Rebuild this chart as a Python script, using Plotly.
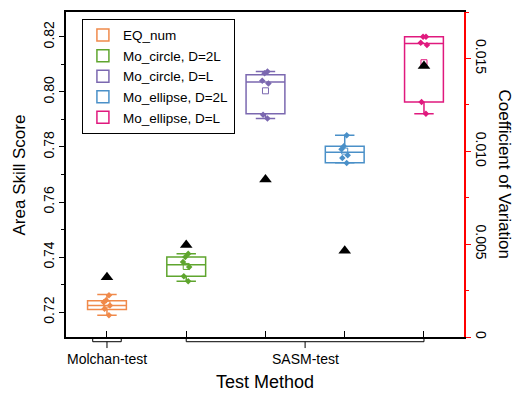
import plotly.graph_objects as go

categories = ["EQ_num", "Mo_circle, D=2L", "Mo_circle, D=L", "Mo_ellipse, D=2L", "Mo_ellipse, D=L"]
positions = [1, 2, 3, 4, 5]
colors = ["#F08A4B", "#5FA52E", "#7B68B0", "#4A90C8", "#E0197E"]

points = [
    [0.7261, 0.7243, 0.7236, 0.7224, 0.7212, 0.7189],
    [0.7412, 0.7400, 0.7382, 0.7364, 0.7330, 0.7312],
    [0.8074, 0.8068, 0.8041, 0.8031, 0.7917, 0.7903],
    [0.7843, 0.7803, 0.7792, 0.7770, 0.7760, 0.7742],
    [0.8200, 0.8200, 0.8179, 0.8170, 0.7963, 0.7921],
]
q1 = [0.7210, 0.7330, 0.7921, 0.7743, 0.7963]
median = [0.7224, 0.7372, 0.8036, 0.7781, 0.8176]
q3 = [0.7241, 0.7400, 0.8062, 0.7803, 0.8200]
lowerfence = [0.7189, 0.7312, 0.7903, 0.7742, 0.7921]
upperfence = [0.7264, 0.7412, 0.8074, 0.7843, 0.8200]
means = [0.7229, 0.7366, 0.8004, 0.7785, 0.8106]
cv = [0.00322, 0.00495, 0.00849, 0.00465, 0.0146]

groups = ["Molchan-test", "SASM-test"]
group_members = [[1], [2, 3, 4, 5]]

y2_tickvals = [0, 0.005, 0.010, 0.015]
y2_ticktext = ["0", "0.005", "0.010", "0.015"]

FONT = "Liberation Sans, Arial, sans-serif"

fig = go.Figure()

for i, cat in enumerate(categories):
    fig.add_trace(go.Box(
        x=[positions[i]], q1=[q1[i]], median=[median[i]], q3=[q3[i]],
        lowerfence=[lowerfence[i]], upperfence=[upperfence[i]],
        name=cat, width=0.49, whiskerwidth=0.5,
        line=dict(color=colors[i], width=1.5),
        fillcolor="rgba(0,0,0,0)", showlegend=True,
    ))

for i, cat in enumerate(categories):
    fig.add_trace(go.Box(
        x=[positions[i]] * len(points[i]), y=points[i],
        boxpoints="all", jitter=0.6, pointpos=0, width=0.16,
        line=dict(width=0, color="rgba(0,0,0,0)"),
        fillcolor="rgba(0,0,0,0)",
        marker=dict(color=colors[i], size=5, symbol="diamond"),
        showlegend=False, hoveron="points",
    ))
    fig.add_trace(go.Scatter(
        x=[positions[i]], y=[means[i]], mode="markers",
        marker=dict(symbol="square-open", size=6, color=colors[i], line=dict(width=1)),
        showlegend=False,
    ))

fig.add_trace(go.Scatter(
    x=positions, y=cv, yaxis="y2", mode="markers",
    marker=dict(symbol="triangle-up", size=11, color="black"),
    showlegend=False,
))

# group brackets and labels
shapes = []
annotations = []
for g, members in zip(groups, group_members):
    lo = min(positions[m - 1] for m in members)
    hi = max(positions[m - 1] for m in members)
    if lo == hi:
        lo, hi = lo - 0.18, hi + 0.18
    mid = (lo + hi) / 2
    shapes.append(dict(type="path", xref="x", yref="paper",
                       path=f"M {lo} 0 L {lo} -0.0145 L {hi} -0.0145 L {hi} 0",
                       line=dict(color="black", width=1)))
    shapes.append(dict(type="line", xref="x", yref="paper", x0=mid, x1=mid,
                       y0=-0.0145, y1=-0.034, line=dict(color="black", width=1)))
    annotations.append(dict(text=g, x=mid, xref="x", y=-0.036, yref="paper",
                            yanchor="top", showarrow=False,
                            font=dict(size=14, color="black", family=FONT)))

annotations.append(dict(text="Test Method", x=0.5, xref="paper", y=-0.138, yref="paper",
                        xanchor="center", yanchor="middle", showarrow=False,
                        font=dict(size=18, color="black", family=FONT)))
annotations.append(dict(text="Area Skill Score", x=-0.1156, xref="paper", y=0.5, yref="paper",
                        textangle=-90, xanchor="center", yanchor="middle", showarrow=False,
                        font=dict(size=17, color="black", family=FONT)))
annotations.append(dict(text="Coefficient of Variation", x=1.103, xref="paper", y=0.5, yref="paper",
                        textangle=90, xanchor="center", yanchor="middle", showarrow=False,
                        font=dict(size=17, color="black", family=FONT)))

fig.update_layout(
    width=520, height=396,
    margin=dict(l=66, r=56, t=10, b=59),
    paper_bgcolor="white", plot_bgcolor="white",
    font=dict(family=FONT, size=13, color="black"),
    boxmode="overlay",
    shapes=shapes, annotations=annotations,
    xaxis=dict(range=[0.483, 5.505], tickvals=positions, ticktext=[""] * 5,
               ticks="inside", ticklen=6, tickcolor="black", tickwidth=1,
               showline=True, linecolor="black", linewidth=1.5, mirror=True,
               showgrid=False, zeroline=False),
    yaxis=dict(range=[0.71097, 0.82903], tick0=0.72, dtick=0.02, tickformat=".2f",
               ticks="outside", ticklen=5, tickcolor="black", tickangle=-90,
               minor=dict(dtick=0.01, tick0=0.72, ticks="outside", ticklen=3, tickcolor="black"),
               showline=True, linecolor="black", linewidth=1.5,
               showgrid=False, zeroline=False, tickfont=dict(size=14)),
    yaxis2=dict(range=[0, 0.01751], overlaying="y", side="right",
                tickvals=y2_tickvals, ticktext=y2_ticktext,
                ticks="outside", ticklen=5, tickcolor="red", tickangle=90,
                minor=dict(dtick=0.0025, tick0=0, ticks="outside", ticklen=3, tickcolor="red"),
                showline=True, linecolor="red", linewidth=1.5,
                showgrid=False, zeroline=False, tickfont=dict(size=14)),
    legend=dict(x=0.04, y=0.979, xanchor="left", yanchor="top",
                bordercolor="black", borderwidth=1, bgcolor="white",
                font=dict(size=13.5, family=FONT), tracegroupgap=0),
)

fig.write_html("out.html", config={"displayModeBar": False},
               post_script="document.body.style.margin='0';document.body.style.overflow='hidden';")
